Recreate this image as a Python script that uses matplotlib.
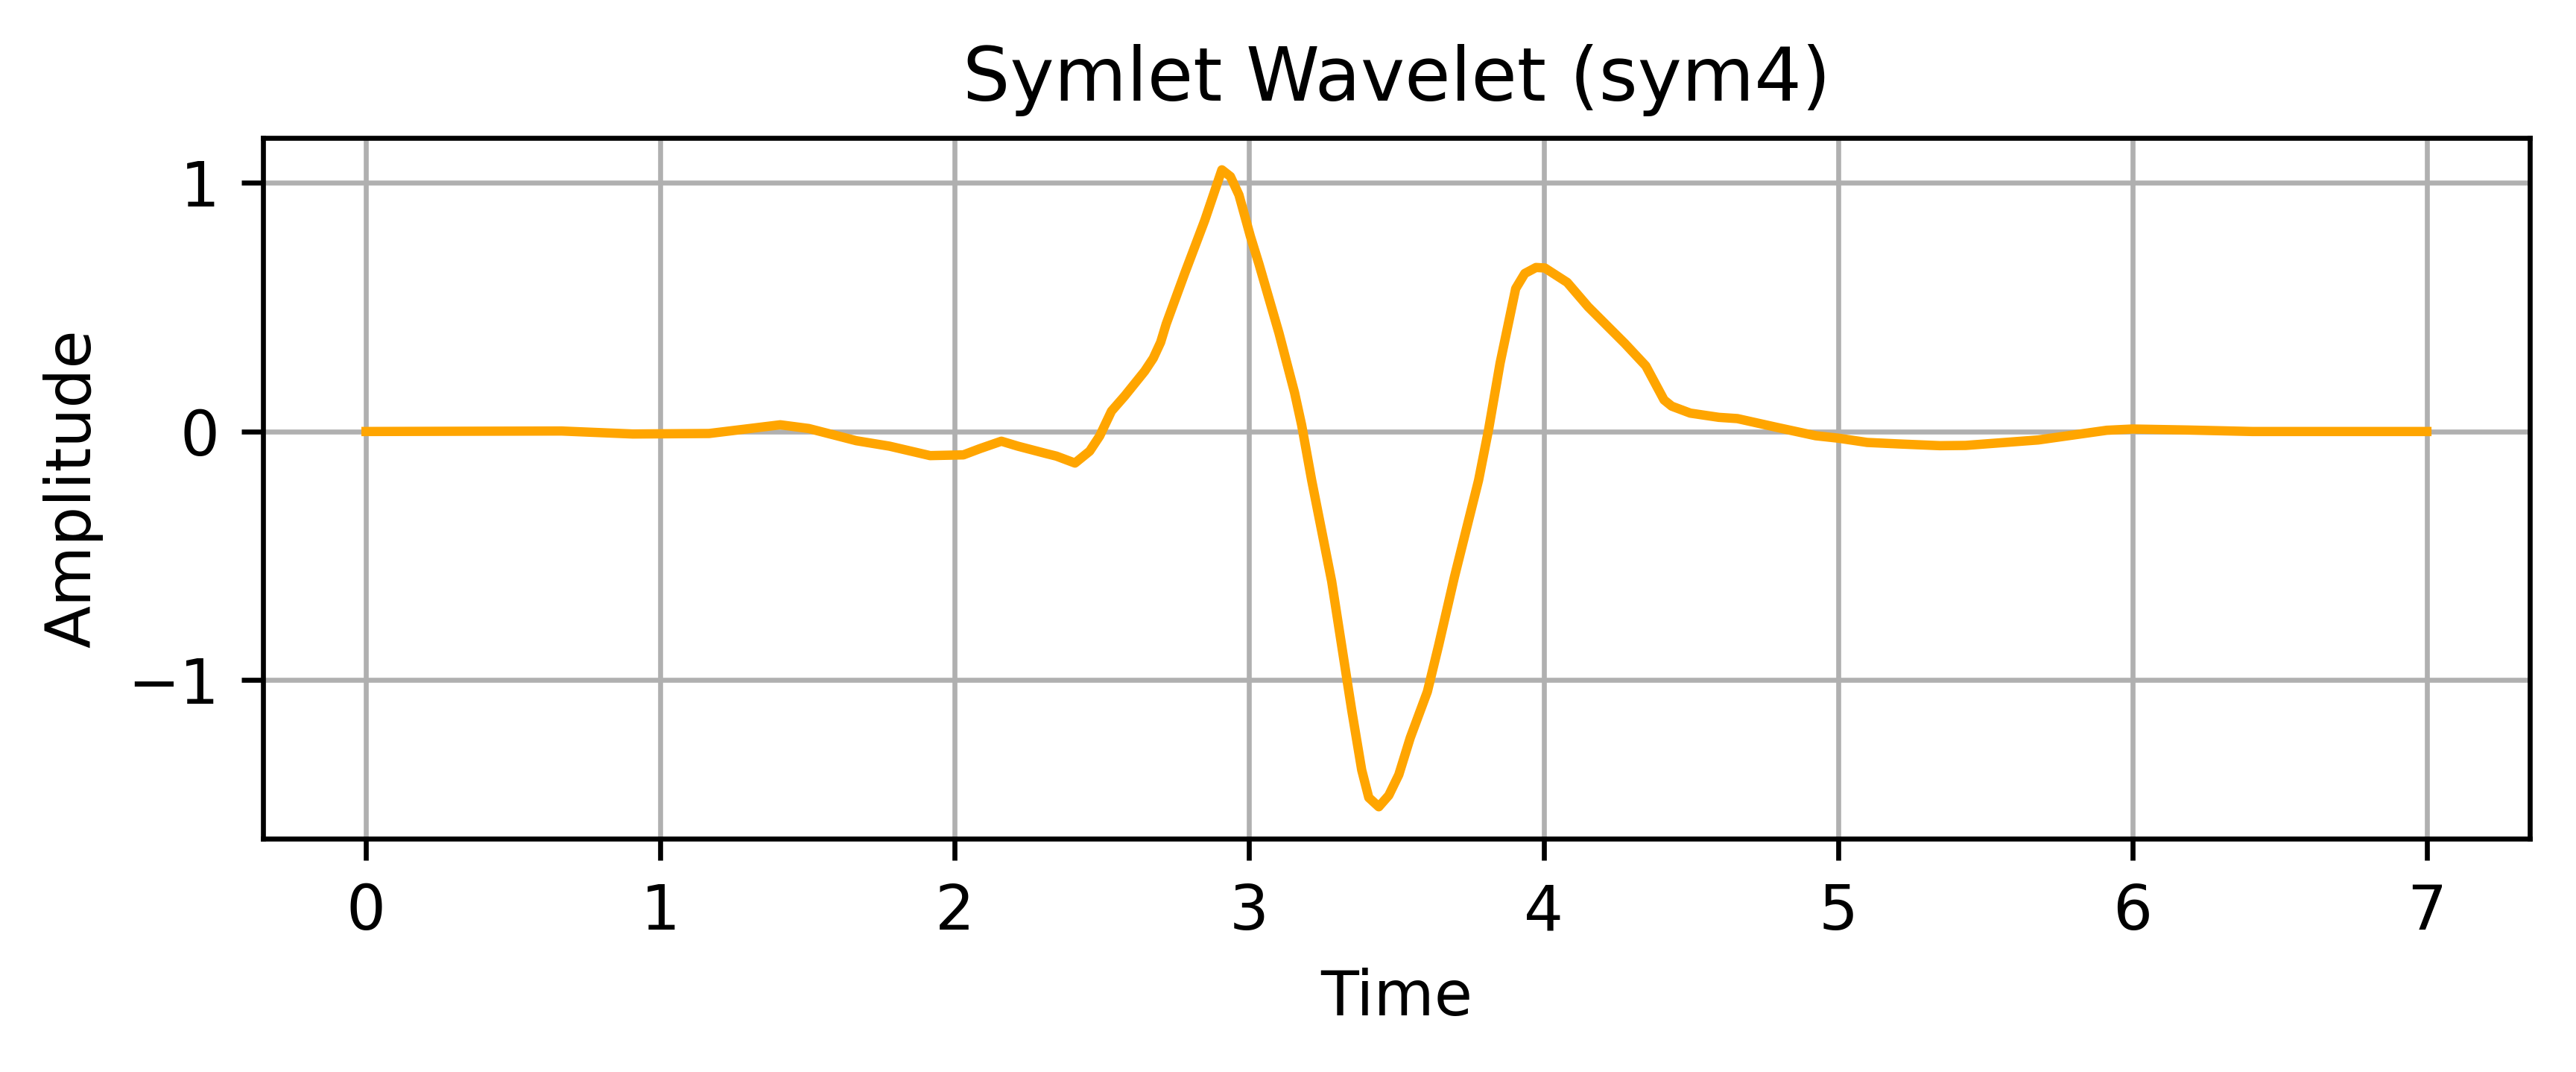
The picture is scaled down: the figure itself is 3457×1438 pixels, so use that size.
import matplotlib
matplotlib.use("Agg")
from matplotlib import pyplot as plt

# values
time = [0.0, 0.664, 0.906, 1.165, 1.407, 1.504, 1.665, 1.778, 1.916, 2.029,
        2.085, 2.158, 2.214, 2.311, 2.345, 2.408, 2.458, 2.492, 2.532, 2.577,
        2.645, 2.674, 2.699, 2.718, 2.781, 2.849, 2.907, 2.936, 2.965, 3.004,
        3.033, 3.101, 3.154, 3.178, 3.212, 3.280, 3.314, 3.348, 3.382, 3.406,
        3.440, 3.474, 3.508, 3.547, 3.605, 3.643, 3.697, 3.779, 3.813, 3.852,
        3.905, 3.936, 3.974, 4.004, 4.080, 4.151, 4.276, 4.347, 4.409, 4.435,
        4.498, 4.595, 4.658, 4.791, 4.924, 5.002, 5.099, 5.206, 5.346, 5.433,
        5.680, 5.913, 6.0, 6.189, 6.407, 7.0]
amplitude = [0.0, 0.002, -0.010, -0.008, 0.027, 0.012, -0.037, -0.059, -0.097, -0.094,
             -0.069, -0.039, -0.059, -0.089, -0.099, -0.127, -0.079, -0.018, 0.082, 0.143,
             0.243, 0.295, 0.359, 0.433, 0.637, 0.850, 1.053, 1.026, 0.952, 0.785,
             0.674, 0.396, 0.156, 0.026, -0.196, -0.603, -0.862, -1.121, -1.362, -1.473,
             -1.510, -1.464, -1.381, -1.232, -1.047, -0.862, -0.585, -0.196, 0.008, 0.275,
             0.575, 0.636, 0.660, 0.658, 0.600, 0.502, 0.354, 0.264, 0.127, 0.102,
             0.074, 0.057, 0.052, 0.017, -0.017, -0.027, -0.044, -0.050, -0.057, -0.056,
             -0.034, 0.005, 0.010, 0.006, 0.0, 0.0]


def draw_plot(x, y):
    fig = plt.figure(figsize=(3457 / 600, 1438 / 600), dpi=600)
    fig.subplots_adjust(left=0.1021, right=0.9821, top=0.8713, bottom=0.2177)
    plt.plot(x, y, color='orange')
    plt.title("Symlet Wavelet (sym4)")
    plt.xlabel("Time")
    plt.ylabel("Amplitude")
    plt.grid(True)
    plt.savefig("out.png", dpi=600)


draw_plot(time, amplitude)
